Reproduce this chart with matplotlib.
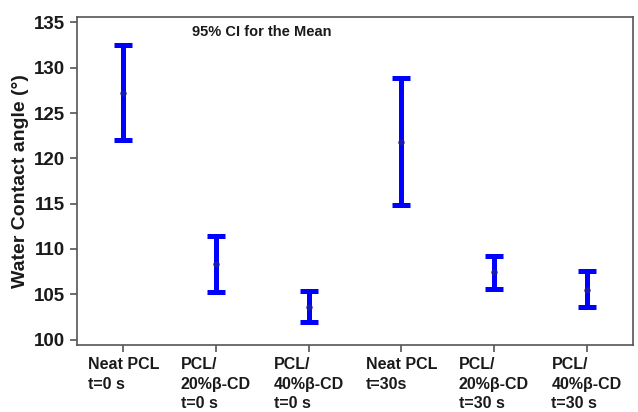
import numpy as np
import matplotlib.pyplot as plt

plt.rcParams['font.family'] = ['Liberation Sans', 'DejaVu Sans']

# Data: 95% CI for the mean of water contact angle
labels = ['Neat PCL\nt=0 s', 'PCL/\n20%β-CD\nt=0 s', 'PCL/\n40%β-CD\nt=0 s',
          'Neat PCL\nt=30s', 'PCL/\n20%β-CD\nt=30 s', 'PCL/\n40%β-CD\nt=30 s']
means = [127.2, 108.3, 103.6, 121.8, 107.5, 105.5]
upper = [132.5, 111.4, 105.4, 128.9, 109.2, 107.6]
lower = [122.0, 105.2, 101.9, 114.8, 105.6, 103.6]

x = np.arange(1, len(means) + 1)
m = np.array(means)
err = [m - np.array(lower), np.array(upper) - m]

fig = plt.figure(figsize=(6.38, 4.12), dpi=100)
ax = fig.add_axes([0.1207, 0.1626, 0.8713, 0.796])

ax.errorbar(x, m, yerr=err, fmt='o', color='#0000ff', ms=3.5, mfc='#1a1ab0',
            mec='#1a1ab0', elinewidth=3.6, capsize=6.8, capthick=3.6)

ax.set_xlim(0.5, 6.5)
ax.set_ylim(99.4, 135.6)
ax.set_yticks([100, 105, 110, 115, 120, 125, 130, 135])
ax.set_xticks(x)
ax.set_xticklabels(labels, fontsize=11.5, fontweight='bold', multialignment='left',
                   linespacing=1.4)
for t in ax.get_yticklabels():
    t.set_fontsize(13.5)
    t.set_fontweight('bold')

for s in ax.spines.values():
    s.set_color('#555555')
    s.set_linewidth(1.2)
ax.tick_params(axis='both', colors='#555555', labelcolor='#1a1a1a', width=1.2, length=5)

ax.set_ylabel('Water Contact angle (°)', fontsize=14, fontweight='bold', color='#1a1a1a')
ax.text(0.207, 0.955, '95% CI for the Mean', transform=ax.transAxes, fontsize=10.5,
        fontweight='bold', va='center', ha='left', color='#1a1a1a')

fig.savefig('out.png', dpi=100)
